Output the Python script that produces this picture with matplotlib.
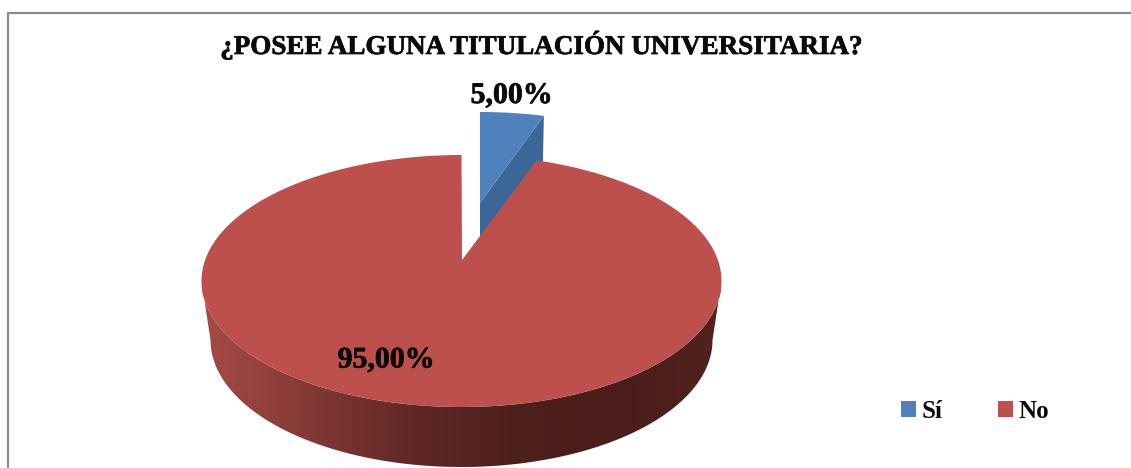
import numpy as np
import matplotlib
matplotlib.use("Agg")
import matplotlib.pyplot as plt
import matplotlib.patheffects as pe
from matplotlib.colors import LinearSegmentedColormap

categories = ["Sí", "No"]
shares = [5.0, 95.0]
title = "¿POSEE ALGUNA TITULACIÓN UNIVERSITARIA?"

W, H = 1131, 468
plt.rcParams["font.family"] = ["Liberation Serif", "DejaVu Serif"]

BLUE = "#4f81bd"
BLUE_DARK = "#3b6796"
RED = "#bd4f4c"
TXT = "#0a0a0a"


def arc(cx, cy, rx, ry, t0, t1, n=200):
    # angle in degrees, clockwise from 12 o'clock, y axis points down
    t = np.radians(np.linspace(t0, t1, n))
    return cx + rx * np.sin(t), cy - ry * np.cos(t)


def pct(v):
    return f"{v:.2f}".replace(".", ",") + "%"


fig = plt.figure(figsize=(W / 100, H / 100), dpi=100)
ax = fig.add_axes([0, 0, 1, 1])

# top ellipse of the disc, and the bottom one seen through the wall
cx, cy, rx, ry = 461.5, 281, 260, 126
bx, by, brx, bry = 461.5, 340, 251, 127
apex = (462, 260)

ang_si = 360 * shares[0] / 100

# blue slice, pulled out up and right, sits behind the red one
sx, sy = arc(480, 238, 260, 126, 0, ang_si * 0.79)
ax.fill([sx[-1], sx[-1] - 1, 480, 480], [sy[-1], 165, 238, 203], color=BLUE_DARK, lw=0, zorder=1)
h_si = ax.fill(np.r_[sx, 480], np.r_[sy, 203], color=BLUE, lw=0, zorder=2)[0]

# red wall, horizontal shading clipped to the front half of the disc
tx, ty = arc(cx, cy, rx, ry, 90, 270)
ux, uy = arc(bx, by, brx, bry, 270, 90)
wall = ax.fill(np.r_[tx, ux], np.r_[ty, uy], color="none", lw=0, zorder=3)[0]
cmap = LinearSegmentedColormap.from_list(
    "wall", ["#a64a47", "#853a37", "#612825", "#4e201c", "#4a1d1a", "#51221e"])
img = ax.imshow(np.linspace(0, 1, 256)[None, :], cmap=cmap, aspect="auto",
                extent=(202, 721, 468, 280), zorder=3)
img.set_clip_path(wall)

# red slice top
rxs, rys = arc(cx, cy, rx, ry, ang_si * 0.935, 360, 500)
h_no = ax.fill(np.r_[apex[0], rxs], np.r_[apex[1], rys], color=RED, lw=0, zorder=4)[0]

ax.set_xlim(0, W)
ax.set_ylim(H, 0)
ax.axis("off")

# only the left and top of the chart frame are in the picture
ax.plot([7.5, 7.5, W], [H, 12.5, 12.5], color="#8c8c8c", lw=1.6, zorder=5,
        solid_joinstyle="miter", clip_on=False)

heavy = [pe.withStroke(linewidth=0.5, foreground=TXT)]
ax.text(542, 45, title, ha="center", va="center", fontsize=19.5, fontweight="bold",
        color=TXT, zorder=6, path_effects=heavy)
ax.text(511.5, 95.5, pct(shares[0]), ha="center", va="center", fontsize=21.5, fontweight="bold",
        color=TXT, zorder=6, path_effects=heavy)
ax.text(386, 360, pct(shares[1]), ha="center", va="center", fontsize=21.5, fontweight="bold",
        color=TXT, zorder=6, path_effects=heavy)

leg = ax.legend([h_si, h_no], categories, ncol=2, frameon=False, loc="center left",
                bbox_to_anchor=(901 / W, 1 - 411 / H), bbox_transform=fig.transFigure,
                prop={"weight": "bold", "size": 18}, handlelength=0.6, handleheight=0.6,
                handletextpad=0.24, columnspacing=2.2, labelcolor=TXT, borderpad=0, borderaxespad=0)

fig.savefig("out.png", dpi=100)
plt.close(fig)
